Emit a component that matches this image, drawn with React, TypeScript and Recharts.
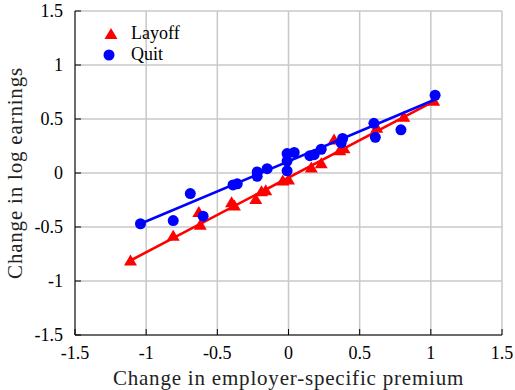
import { CartesianGrid, Scatter, ScatterChart, XAxis, YAxis } from 'recharts';

const TICKS = [-1.5, -1, -0.5, 0, 0.5, 1, 1.5];

// Layoff (triangles)
const layoffX = [-1.11, -0.81, -0.63, -0.62, -0.40, -0.38, -0.23, -0.19, -0.16, -0.04, 0.0, 0.16, 0.23, 0.32, 0.36, 0.39, 0.62, 0.81, 1.02];
const layoffY = [-0.81, -0.58, -0.36, -0.48, -0.27, -0.30, -0.24, -0.17, -0.16, -0.07, -0.06, 0.05, 0.09, 0.31, 0.21, 0.23, 0.42, 0.52, 0.67];

// Quit (circles)
const quitX = [-1.04, -0.81, -0.69, -0.60, -0.39, -0.36, -0.22, -0.22, -0.15, -0.01, 0.04, -0.01, -0.01, 0.15, 0.18, 0.23, 0.38, 0.37, 0.60, 0.61, 0.79, 1.03];
const quitY = [-0.47, -0.44, -0.19, -0.40, -0.11, -0.10, 0.01, -0.03, 0.04, 0.18, 0.19, 0.11, 0.02, 0.16, 0.17, 0.22, 0.32, 0.28, 0.46, 0.33, 0.40, 0.72];

// fitted lines (endpoints)
const layoffFitX = [-1.11, 1.03];
const layoffFitY = [-0.81, 0.67];
const quitFitX = [-1.04, 1.03];
const quitFitY = [-0.47, 0.68];

const zip = (xs: number[], ys: number[]) => xs.map((x, i) => ({ x, y: ys[i] }));

const FONT = '"Liberation Serif", "DejaVu Serif", serif';
const RED = '#ff0000';
const BLUE = '#0000ff';
const GRID = '#c8c8c8';

const Triangle = (props: any) => {
  const { cx, cy } = props;
  if (cx == null || cy == null) return <g />;
  return <path d={`M${cx},${cy - 6} L${cx + 6.5},${cy + 5} L${cx - 6.5},${cy + 5} Z`} fill={RED} />;
};

const Dot = (props: any) => {
  const { cx, cy } = props;
  if (cx == null || cy == null) return <g />;
  return <circle cx={cx} cy={cy} r={5.5} fill={BLUE} />;
};

const NoShape = () => <g />;
const NoTick = () => <g />;

const LegendBox = () => (
  <div style={{ position: 'absolute', left: 97, top: 23, fontFamily: FONT, fontSize: 18, color: '#000', lineHeight: '21px' }}>
    <div style={{ display: 'flex', alignItems: 'center' }}>
      <svg width={26} height={21}>
        <path d="M14,5 L20.5,16 L7.5,16 Z" fill={RED} />
      </svg>
      <span style={{ marginLeft: 8 }}>Layoff</span>
    </div>
    <div style={{ display: 'flex', alignItems: 'center' }}>
      <svg width={26} height={21}>
        <circle cx={12} cy={11} r={5.5} fill={BLUE} />
      </svg>
      <span style={{ marginLeft: 8 }}>Quit</span>
    </div>
  </div>
);

export default function App() {
  const tickStyle = { fill: '#000', fontSize: 18, fontFamily: FONT };
  return (
    <div style={{ position: 'absolute', left: 0, top: 0, width: 515, height: 390, background: '#fff' }}>
      <ScatterChart width={515} height={390} margin={{ top: 11, right: 13, bottom: 0, left: 0 }}>
        <CartesianGrid stroke={GRID} strokeWidth={1.5} strokeOpacity={1} />
        <XAxis
          type="number"
          dataKey="x"
          domain={[-1.5, 1.5]}
          ticks={TICKS}
          tick={tickStyle}
          tickSize={6}
          tickLine={{ stroke: '#000', transform: 'translate(0,-6)' }}
          tickMargin={5}
          axisLine={{ stroke: '#000' }}
          height={55}
          interval={0}
          label={{ value: 'Change in employer-specific premium', position: 'insideBottom', offset: 5, style: { fill: '#222', fontSize: 21, letterSpacing: 0.8, fontFamily: FONT } }}
        />
        <XAxis xAxisId="top" orientation="top" type="number" dataKey="x" domain={[-1.5, 1.5]} ticks={TICKS} tick={NoTick} tickSize={6} tickLine={{ stroke: '#000', transform: 'translate(0,6)' }} axisLine={{ stroke: '#000' }} height={0} interval={0} />
        <YAxis
          type="number"
          dataKey="y"
          domain={[-1.5, 1.5]}
          ticks={TICKS}
          tick={tickStyle}
          tickSize={6}
          tickLine={{ stroke: '#000', transform: 'translate(6,0)' }}
          tickMargin={6}
          axisLine={{ stroke: '#000' }}
          width={75}
          interval={0}
          label={{ value: 'Change in log earnings', angle: -90, position: 'insideLeft', offset: 15, style: { fill: '#222', fontSize: 21, letterSpacing: 0.8, fontFamily: FONT, textAnchor: 'middle' } }}
        />
        <YAxis yAxisId="right" orientation="right" type="number" dataKey="y" domain={[-1.5, 1.5]} ticks={TICKS} tick={NoTick} tickSize={6} tickLine={{ stroke: '#000', transform: 'translate(-6,0)' }} axisLine={{ stroke: '#000' }} width={0} interval={0} />
        <Scatter data={zip(layoffFitX, layoffFitY)} line={{ stroke: RED, strokeWidth: 2.6 }} shape={NoShape} legendType="none" isAnimationActive={false} />
        <Scatter name="Layoff" data={zip(layoffX, layoffY)} shape={Triangle} isAnimationActive={false} />
        <Scatter data={zip(quitFitX, quitFitY)} line={{ stroke: BLUE, strokeWidth: 2.6 }} shape={NoShape} legendType="none" isAnimationActive={false} />
        <Scatter name="Quit" data={zip(quitX, quitY)} shape={Dot} isAnimationActive={false} />
      </ScatterChart>
      <LegendBox />
    </div>
  );
}
